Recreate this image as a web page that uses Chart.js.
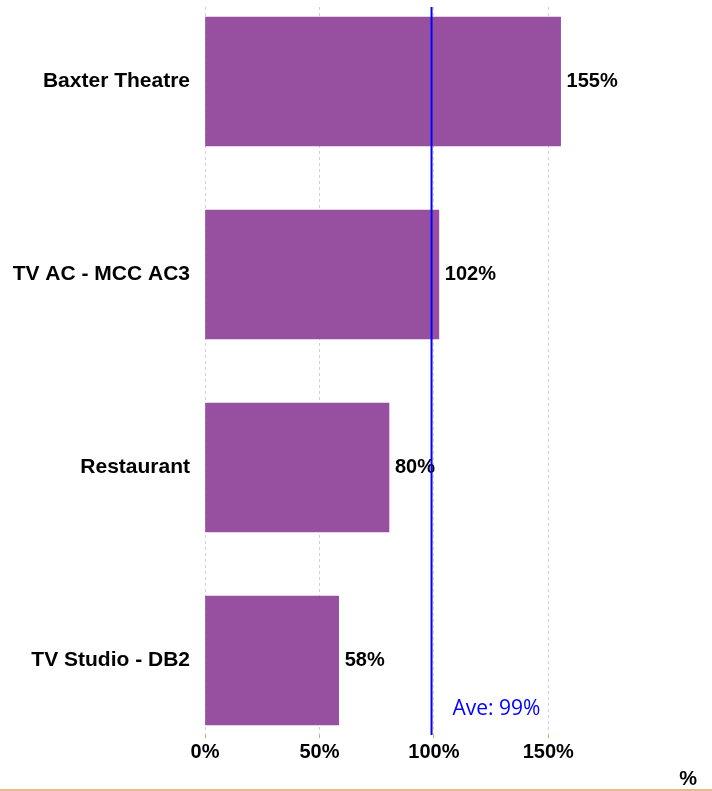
<!DOCTYPE html>
<html>
<head>
<meta charset="utf-8">
<script src="https://cdn.jsdelivr.net/npm/chart.js@4/dist/chart.umd.min.js"></script>
<style>
  body { margin: 0; background: #fff; }
  #wrap { width: 712px; height: 789px; border-bottom: 2px solid #e8b98a; }
</style>
</head>
<body>
<div id="wrap"><canvas id="venueChart" width="712" height="789"></canvas></div>
<script>
// venues and their percentage values
var venues = ['Baxter Theatre', 'TV AC - MCC AC3', 'Restaurant', 'TV Studio - DB2'];
var percentValues = [155.4, 102.2, 80.4, 58.4];
var averageValue = 99;
var xTicks = [0, 50, 100, 150];

document.addEventListener('DOMContentLoaded', function() {
    var ctx = document.getElementById('venueChart').getContext('2d');

    // value labels next to each bar
    var barLabels = {
        id: 'barLabels',
        afterDatasetsDraw: function(chart) {
            var c = chart.ctx;
            var meta = chart.getDatasetMeta(0);
            c.save();
            c.font = 'bold 20px "Liberation Sans", Arial, sans-serif';
            c.fillStyle = '#000';
            c.textAlign = 'left';
            c.textBaseline = 'middle';
            meta.data.forEach(function(bar, i) {
                c.fillText(Math.round(percentValues[i]) + '%', bar.x + 6, bar.y);
            });
            c.restore();
        }
    };

    // average line
    var averageLine = {
        id: 'averageLine',
        afterDraw: function(chart) {
            var c = chart.ctx;
            var area = chart.chartArea;
            var x = chart.scales.x.getPixelForValue(averageValue);
            c.save();
            c.strokeStyle = '#0000ff';
            c.lineWidth = 2;
            c.beginPath();
            c.moveTo(x, area.top);
            c.lineTo(x, area.bottom);
            c.stroke();
            c.font = '21px "Open Sans", sans-serif';
            c.fillStyle = '#0000ff';
            c.textAlign = 'left';
            c.textBaseline = 'middle';
            c.fillText('Ave: ' + averageValue + '%', x + 21, area.bottom - 26);
            c.restore();
        }
    };

    var venueChart = new Chart(ctx, {
        type: 'bar',
        data: {
            datasets: [{
                data: percentValues.map(function(v, i) { return { x: v, y: i }; }),
                backgroundColor: '#974fa0',
                borderWidth: 0,
                barThickness: 129
            }]
        },
        options: {
            indexAxis: 'y',
            responsive: false,
            animation: false,
            layout: { padding: { top: 7, right: 15, left: 0, bottom: 0 } },
            plugins: {
                legend: { display: false },
                tooltip: { enabled: false }
            },
            scales: {
                x: {
                    type: 'linear',
                    min: 0,
                    max: 215,
                    afterBuildTicks: function(s) {
                        s.ticks = xTicks.map(function(v) { return { value: v }; });
                        s.min = 0;
                        s.max = 215;
                    },
                    afterFit: function(s) {
                        s.height = 54;
                        s.paddingLeft = 0;
                        s.paddingRight = 0;
                    },
                    grid: {
                        color: '#d0d0d0',
                        lineWidth: 1,
                        tickLength: 3,
                        tickColor: '#f0a040'
                    },
                    border: { display: false, dash: [3, 3] },
                    ticks: {
                        padding: 2,
                        color: '#000',
                        font: { family: '"Liberation Sans", Arial, sans-serif', size: 20, weight: 'bold' },
                        callback: function(v) { return v + '%'; }
                    },
                    title: {
                        display: true,
                        text: '%',
                        align: 'end',
                        color: '#000',
                        padding: 0,
                        font: { family: '"Liberation Sans", Arial, sans-serif', size: 20, weight: 'bold', lineHeight: 1 }
                    }
                },
                y: {
                    type: 'linear',
                    reverse: true,
                    offset: false,
                    min: -0.386,
                    max: 3.386,
                    afterBuildTicks: function(s) {
                        s.ticks = venues.map(function(v, i) { return { value: i }; });
                        s.min = -0.386;
                        s.max = 3.386;
                    },
                    afterFit: function(s) {
                        s.width = 205;
                        s.paddingTop = 0;
                        s.paddingBottom = 0;
                    },
                    grid: { display: false, drawTicks: false, offset: false },
                    border: { display: false },
                    ticks: {
                        autoSkip: false,
                        padding: 15,
                        color: '#000',
                        font: { family: '"Liberation Sans", Arial, sans-serif', size: 21, weight: 'bold' },
                        callback: function(v) { return venues[v]; }
                    }
                }
            }
        },
        plugins: [barLabels, averageLine]
    });
});
</script>
</body>
</html>
